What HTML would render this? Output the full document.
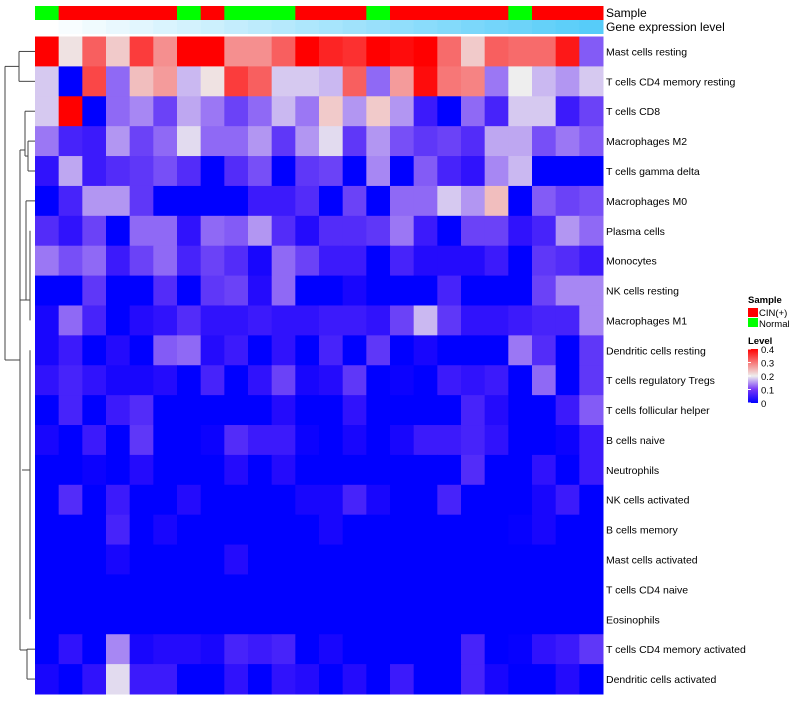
<!DOCTYPE html>
<html><head><meta charset="utf-8"><style>
body{margin:0;background:#fff;font-family:"Liberation Sans",sans-serif}
svg text{font-family:"Liberation Sans",sans-serif}
</style></head><body>
<svg id="chart" width="800" height="700" xmlns="http://www.w3.org/2000/svg"></svg>
<script>
const rowLabels=["Mast cells resting","T cells CD4 memory resting","T cells CD8","Macrophages M2","T cells gamma delta","Macrophages M0","Plasma cells","Monocytes","NK cells resting","Macrophages M1","Dendritic cells resting","T cells regulatory  Tregs","T cells follicular helper","B cells naive","Neutrophils","NK cells activated","B cells memory","Mast cells activated","T cells CD4 naive","Eosinophils","T cells CD4 memory activated","Dendritic cells activated"];
const sampleGroups=["N","C","C","C","C","C","N","C","N","N","N","C","C","C","N","C","C","C","C","C","N","C","C","C"];
const geneLevel=[0,0.04,0.08,0.12,0.16,0.2,0.24,0.28,0.32,0.36,0.4,0.44,0.48,0.52,0.56,0.6,0.64,0.68,0.72,0.76,0.8,0.84,0.88,0.92];
const values=[
[0.4,0.21,0.32,0.23,0.35,0.28,0.4,0.4,0.28,0.28,0.32,0.4,0.37,0.36,0.4,0.39,0.4,0.31,0.23,0.32,0.31,0.31,0.38,0.11],
[0.18,0,0.34,0.12,0.24,0.27,0.17,0.21,0.35,0.32,0.18,0.18,0.17,0.32,0.12,0.27,0.39,0.30,0.29,0.13,0.2,0.17,0.15,0.18],
[0.18,0.4,0,0.12,0.14,0.09,0.16,0.13,0.09,0.12,0.17,0.13,0.23,0.15,0.23,0.15,0.05,0,0.12,0.06,0.18,0.18,0.05,0.09],
[0.13,0.06,0.05,0.15,0.09,0.12,0.19,0.12,0.12,0.15,0.08,0.15,0.19,0.08,0.15,0.1,0.08,0.09,0.07,0.16,0.16,0.1,0.13,0.11],
[0.04,0.16,0.05,0.07,0.08,0.1,0.07,0,0.07,0.1,0,0.08,0.09,0,0.14,0,0.11,0.06,0.04,0.14,0.17,0,0,0],
[0,0.06,0.15,0.15,0.08,0,0,0,0,0.05,0.05,0.07,0,0.09,0,0.12,0.12,0.18,0.15,0.24,0,0.11,0.09,0.1],
[0.07,0.04,0.09,0,0.12,0.12,0.04,0.12,0.11,0.15,0.07,0.03,0.07,0.07,0.08,0.13,0.05,0,0.09,0.09,0.04,0.06,0.15,0.12],
[0.13,0.1,0.12,0.05,0.09,0.12,0.06,0.09,0.07,0.02,0.12,0.09,0.05,0.05,0,0.06,0.03,0.03,0.03,0.05,0,0.08,0.07,0.05],
[0,0,0.08,0,0,0.07,0,0.08,0.09,0.03,0.12,0,0,0.02,0,0,0,0.06,0,0,0,0.09,0.14,0.14],
[0.02,0.12,0.06,0,0.03,0.04,0.07,0.04,0.04,0.05,0.04,0.04,0.05,0.05,0.04,0.09,0.17,0.08,0.04,0.04,0.05,0.06,0.06,0.14],
[0.02,0.05,0,0.03,0,0.11,0.12,0.03,0.05,0,0.04,0,0.06,0,0.08,0,0.02,0,0,0,0.13,0.07,0,0.08],
[0.04,0.06,0.04,0.02,0.02,0.03,0,0.06,0,0.04,0.09,0.02,0.03,0.08,0,0.01,0,0.05,0.04,0.05,0,0.12,0,0.08],
[0,0.06,0,0.05,0.07,0,0,0,0,0,0.03,0,0,0.04,0,0,0,0,0.06,0.03,0,0,0.05,0.11],
[0.02,0,0.05,0,0.08,0,0,0.01,0.07,0.05,0.05,0.01,0,0.02,0,0.02,0.05,0.05,0.06,0.04,0,0,0.01,0.05],
[0,0,0.01,0,0.03,0,0,0,0.03,0,0.03,0,0,0,0,0,0,0,0.07,0,0,0.04,0,0.05],
[0,0.07,0,0.05,0,0,0.03,0,0,0,0,0.02,0.02,0.06,0.02,0,0,0.06,0,0,0,0.02,0.05,0],
[0,0,0,0.06,0,0.02,0,0,0,0,0,0,0.02,0,0,0,0,0,0,0,0.005,0.02,0,0],
[0,0,0,0.02,0,0,0,0,0.03,0,0,0,0,0,0,0,0,0,0,0,0,0,0,0],
[0,0,0,0,0,0,0,0,0,0,0,0,0,0,0,0,0,0,0,0,0,0,0,0],
[0,0,0,0,0,0,0,0,0,0,0,0,0,0,0,0,0,0,0,0,0,0,0,0],
[0,0.04,0,0.14,0.02,0.03,0.03,0.02,0.06,0.05,0.06,0,0.02,0,0,0,0,0,0.06,0,0.005,0.04,0.05,0.08],
[0.02,0,0.04,0.19,0.05,0.05,0,0,0.04,0,0.04,0.03,0,0.03,0,0.05,0,0,0.06,0.02,0,0,0.03,0]
];
const legendTicks=[0,0.1,0.2,0.3,0.4];
const NS="http://www.w3.org/2000/svg";
const svg=document.getElementById('chart');
const X0=35,X1=603,Y0=36.5,Y1=694;
const nC=values[0].length,nR=values.length;
const cw=(X1-X0)/nC,rh=(Y1-Y0)/nR;
const xs=i=>X0+i*cw, ys=j=>Y0+j*rh;
function mk(t,a){const e=document.createElementNS(NS,t);for(const k in a)e.setAttribute(k,a[k]);svg.appendChild(e);return e;}
function lerp(a,b,t){return Math.round(a+(b-a)*t);}
function col(v){v=Math.max(0,Math.min(0.4,v));
 if(v<=0.2){const t=v/0.2;return `rgb(${lerp(0,238,t)},${Math.round(238*Math.pow(t,1.6))},${lerp(255,238,t)})`;}
 const t=(v-0.2)/0.2;return `rgb(${lerp(238,255,t)},${lerp(238,0,t)},${lerp(238,0,t)})`;}
sampleGroups.forEach((g,i)=>{const r=mk('rect',{x:xs(i),y:6,width:cw+0.5,height:14,fill:g==='C'?'#ff0000':'#00ff00'});

});
geneLevel.forEach((g,i)=>{const r=mk('rect',{x:xs(i),y:20,width:cw+0.5,height:14,fill:`rgb(${lerp(255,72,g)},${lerp(255,200,g)},${lerp(255,248,g)})`});

});
let t=mk('text',{x:606,y:17,'font-size':12,fill:'#000'});t.textContent='Sample';


t=mk('text',{x:606,y:31,'font-size':12,fill:'#000'});t.textContent='Gene expression level';


values.forEach((row,j)=>{row.forEach((v,i)=>{const r=mk('rect',{x:xs(i),y:ys(j),width:cw+0.5,height:rh+0.5,fill:col(v)});

});
const l=mk('text',{x:606,y:ys(j)+rh/2+4,'font-size':10.5,fill:'#000'});l.textContent=rowLabels[j];

});
const c=j=>ys(j)+rh/2;
const segs=[[19,c(0),19,c(1)],[19,c(0),35,c(0)],[19,c(1),35,c(1)],[5,(c(0)+c(1))/2,19,(c(0)+c(1))/2],
[5,(c(0)+c(1))/2,5,360],[5,360,20,360],
[25,c(2),35,c(2)],[28,c(3),35,c(3)],[28,c(4),35,c(4)],[28,c(3),28,c(4)],[25,c(2),25,(c(3)+c(4))/2],[25,(c(3)+c(4))/2,28,(c(3)+c(4))/2],
[20,150,20,650],[20,150,25,150],[26,c(5),35,c(5)],[26,c(5),26,300],[20,300,30,300],[30,c(6),30,c(9)],
[20,650,27,650],[27,c(20),27,c(21)],[27,c(20),35,c(20)],[27,c(21),35,c(21)],[22,470,30,470],[30,c(10),30,c(19)]];
segs.forEach(s=>{const e=mk('line',{x1:s[0],y1:s[1],x2:s[2],y2:s[3],stroke:'#444','stroke-width':1});

});
const lg=[['Sample',748,303,'bold'],['CIN(+)',759,316,'normal'],['Normal',759,327,'normal'],['Level',748,344,'bold']];
lg.forEach(a=>{const e=mk('text',{x:a[1],y:a[2],'font-size':9.5,'font-weight':a[3],fill:'#000'});e.textContent=a[0];

});
let s=mk('rect',{x:748,y:308,width:10,height:9,fill:'#ff0000'});


s=mk('rect',{x:748,y:318,width:10,height:9,fill:'#00ff00'});


const defs=document.createElementNS(NS,'defs');defs.innerHTML='<linearGradient id="lg" x1="0" y1="1" x2="0" y2="0"><stop offset="0" stop-color="#0000ff"/><stop offset="0.25" stop-color="#7737f6"/><stop offset="0.5" stop-color="#eeeeee"/><stop offset="1" stop-color="#ff0000"/></linearGradient>';svg.appendChild(defs);
const LB0=403,LB1=349;
s=mk('rect',{x:748,y:LB1,width:10,height:LB0-LB1,fill:'url(#lg)'});


legendTicks.forEach(v=>{const y=LB0-(LB0-LB1)*v/0.4;
const e=mk('text',{x:761,y:y+4,'font-size':9.5,fill:'#000'});e.textContent=String(v);


const tl=mk('line',{x1:748,x2:751,y1:y,y2:y,stroke:'#fff'});

});
</script>
</body></html>
